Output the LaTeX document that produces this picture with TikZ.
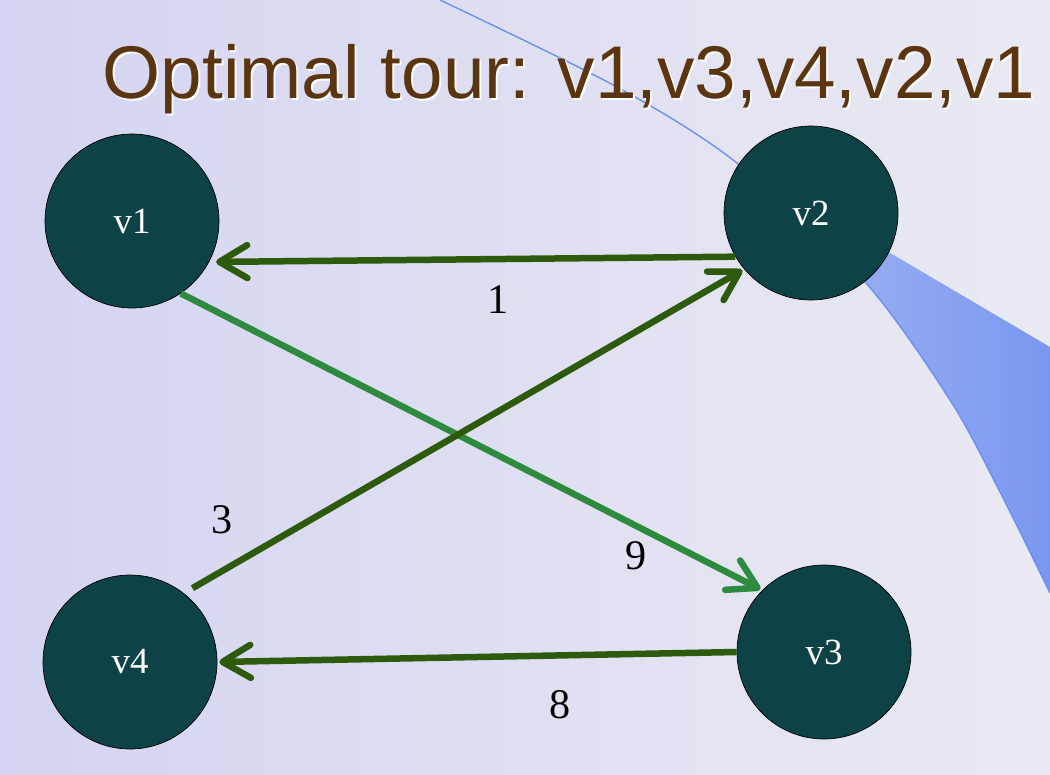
\documentclass[tikz,border=0pt]{standalone}
\usepackage{fontspec}
\setmainfont{Liberation Serif}
\newfontfamily\titlefont{Liberation Sans}
\usetikzlibrary{arrows.meta}
\definecolor{bgleft}{HTML}{D4D4F2}
\definecolor{bgright}{HTML}{EAEAF2}
\definecolor{swooshlight}{HTML}{A8BAF3}
\definecolor{swooshdark}{HTML}{7A97F0}
\definecolor{arcblue}{HTML}{6E8EF0}
\definecolor{cityteal}{HTML}{0D4346}
\definecolor{darkgreen}{HTML}{2E5A0E}
\definecolor{lightgreen}{HTML}{2E8A3E}
\definecolor{titlebrown}{HTML}{5A3510}

\begin{document}
\begin{tikzpicture}[x=0.02cm, y=-0.02cm,
  city/.style={circle, draw=black, line width=0.4pt, fill=cityteal, minimum size=3.48cm, inner sep=0pt, text=white, font=\fontsize{21}{21}\selectfont},
  tour/.style={line width=0.13cm, shorten >=0.04cm, -{Straight Barb[length=0.56cm, width=0.66cm, round]}},
  cost/.style={font=\fontsize{24}{24}\selectfont, text=black}]
\useasboundingbox (0,0) rectangle (1050,774);
% background and the blue swoosh
\shade[left color=bgleft, right color=bgright] (0,0) rectangle (1050,774);
\shade[left color=swooshlight, right color=swooshdark] plot[smooth] coordinates {(737,163) (865,282) (950,400) (1000,492) (1050,593)} -- (1050,347) -- cycle;
\draw[arcblue, line width=0.8pt] plot[smooth] coordinates {(440,0) (617,87) (737,163) (865,282) (950,400) (1000,492) (1050,593)};
% title
\node[anchor=base, white!85!bgright, font=\titlefont\fontsize{42.5}{42.5}\selectfont] (shadow) at (571,100) {Optimal tour: v1,v3,v4,v2,v1};
\node[anchor=base, titlebrown, font=\titlefont\fontsize{42.5}{42.5}\selectfont] (title) at (569,98) {Optimal tour: v1,v3,v4,v2,v1};
% cities
\node[city] (v1) at (132,221) {v1};
\node[city] (v2) at (811,213) {v2};
\node[city] (v3) at (824,652) {v3};
\node[city] (v4) at (130,662) {v4};
% tour edges
\draw[tour, darkgreen, shorten >=0.14cm] (v2.210) -- (v1.-28);
\draw[tour, lightgreen] (v1.-56) -- (v3.135);
\draw[tour, darkgreen, shorten <=0.2cm] (v4.52) -- (v2.220);
\draw[tour, darkgreen] (v3.180) -- (v4.0);
% costs
\node[cost] (c21) at (498,300) {1};
\node[cost] (c13) at (636,556) {9};
\node[cost] (c42) at (222,520) {3};
\node[cost] (c34) at (560,705) {8};
\end{tikzpicture}
\end{document}
